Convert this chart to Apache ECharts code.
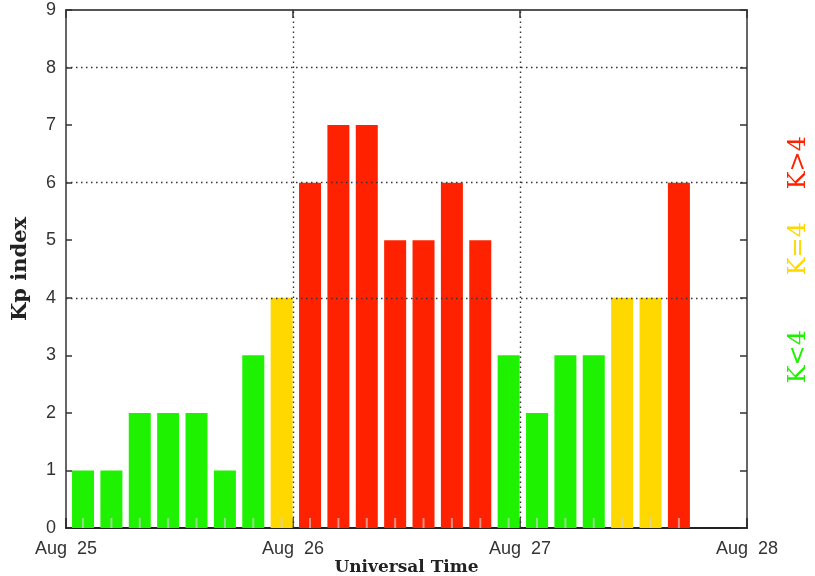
<!DOCTYPE html>
<html>
<head>
<meta charset="utf-8">
<script src="https://cdn.jsdelivr.net/npm/echarts@6/dist/echarts.min.js"></script>
<style>html,body{margin:0;padding:0;background:#fff}#c{width:815px;height:576px}</style>
</head>
<body>
<div id="c"></div>
<script>
// ---- data ----
const dayLabels = ['Aug  25', 'Aug  26', 'Aug  27', 'Aug  28'];
const slotHours = [0, 3, 6, 9, 12, 15, 18, 21, 24, 27, 30, 33, 36, 39, 42, 45, 48, 51, 54, 57, 60, 63];
const kpValues  = [1, 1, 2, 2, 2, 1, 3, 4, 6, 7, 7, 5, 5, 6, 5, 3, 2, 3, 3, 4, 4, 6];
const gridY = [4, 6, 8];
const gridX = [24, 48];

// ---- styles ----
const GREEN = '#1ff200', YELLOW = '#ffd800', RED = '#ff2200';
const barOffset = 1.8;
function kColor(v) { return v < 4 ? GREEN : (v === 4 ? YELLOW : RED); }

const barData = slotHours.map((h, i) => ({
  value: [h + barOffset, kpValues[i]],
  itemStyle: { color: kColor(kpValues[i]) }
}));
const tickData = slotHours.map(h => [h + barOffset, 0]);

const chart = echarts.init(document.getElementById('c'));
const dotted = { color: '#333', type: [1.5, 3.5], width: 1.4 };
chart.setOption({
  animation: false,
  grid: { left: 66, right: 68, top: 10, bottom: 48, containLabel: false, outerBoundsMode: 'none' },
  xAxis: [{
    type: 'value', min: 0, max: 72, interval: 24,
    name: 'Universal Time', nameLocation: 'middle', nameGap: 31, nameMoveOverlap: false,
    nameTextStyle: { fontFamily: 'DejaVu Serif', fontWeight: 'bold', fontSize: 17, color: '#222' },
    axisLine: { onZero: false, lineStyle: { color: '#222', width: 2 } },
    axisTick: { inside: true, length: 10, lineStyle: { color: '#222', width: 1.5 } },
    axisLabel: { margin: 12, fontFamily: 'Liberation Sans', fontSize: 18, color: '#333',
      showMinLabel: true, showMaxLabel: true,
      formatter: v => dayLabels[Math.round(v / 24)] },
    splitLine: { show: false }
  }, {
    type: 'value', min: 0, max: 72, interval: 24, position: 'top',
    axisLine: { onZero: false, lineStyle: { color: '#555', width: 2 } },
    axisTick: { inside: true, length: 8, lineStyle: { color: '#333', width: 1.5 } },
    axisLabel: { show: false }, splitLine: { show: false }
  }],
  yAxis: [{
    type: 'value', min: 0, max: 9, interval: 1,
    name: 'Kp index', nameLocation: 'middle', nameGap: 35, nameMoveOverlap: false,
    nameTextStyle: { fontFamily: 'DejaVu Serif', fontWeight: 'bold', fontSize: 21, color: '#222' },
    axisLine: { show: true, onZero: false, lineStyle: { color: '#666', width: 2 } },
    axisTick: { show: true, inside: true, length: 6, lineStyle: { color: '#333', width: 1.5 } },
    axisLabel: { margin: 10, fontFamily: 'Liberation Sans', fontSize: 18, color: '#333' },
    splitLine: { show: false }
  }, {
    type: 'value', min: 0, max: 9, interval: 1, position: 'right',
    axisLine: { show: true, onZero: false, lineStyle: { color: '#666', width: 2 } },
    axisTick: { show: true, inside: true, length: 7, lineStyle: { color: '#333', width: 1.5 } },
    axisLabel: { show: false }, splitLine: { show: false }
  }],
  series: [{
    type: 'line', data: [], z: 1,
    markLine: {
      silent: true, symbol: 'none', label: { show: false }, lineStyle: dotted,
      data: gridY.map(v => ({ yAxis: v })).concat(gridX.map(v => ({ xAxis: v })))
    }
  }, {
    type: 'bar', data: barData, barWidth: 22, z: 2
  }, {
    type: 'scatter', data: tickData, z: 3, symbol: 'rect', symbolSize: [2, 10],
    symbolOffset: [0, -5], itemStyle: { color: 'rgba(210,210,210,0.8)' }, silent: true
  }],
  graphic: [
    { type: 'text', left: 787, top: 330, rotation: Math.PI / 2,
      style: { text: 'K<4', fill: GREEN, font: '24px "DejaVu Serif"' } },
    { type: 'text', left: 787, top: 222, rotation: Math.PI / 2,
      style: { text: 'K=4', fill: YELLOW, font: '24px "DejaVu Serif"' } },
    { type: 'text', left: 787, top: 136, rotation: Math.PI / 2,
      style: { text: 'K>4', fill: RED, font: '24px "DejaVu Serif"' } }
  ]
});
</script>
</body>
</html>
